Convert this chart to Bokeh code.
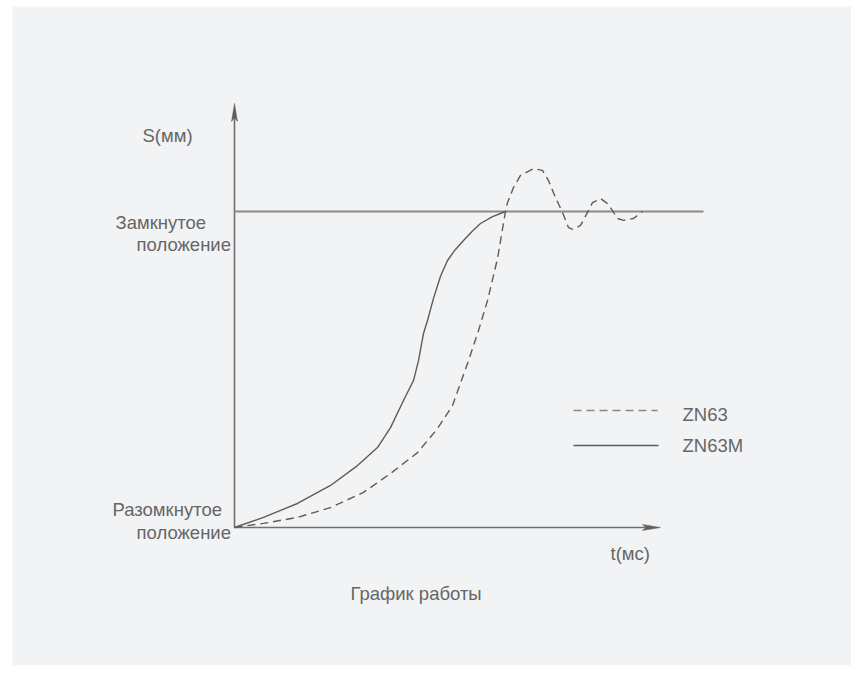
from bokeh.plotting import figure
from bokeh.models import Range1d
from bokeh.core.properties import value
from bokeh.embed import file_html
from bokeh.resources import INLINE

# ---------------- data ----------------
# time (ms, arbitrary units) and stroke S (% of full travel)
zn63m_t = [0, 7.25, 15.75, 24, 30.75, 35.75, 39, 42.25, 44.75, 46, 47.25,
           48.25, 49.75, 51.5, 53.25, 55.25, 57.25, 59.5, 61.5, 64.5, 67.75]
zn63m_s = [0, 3.2, 7.6, 13.3, 19.6, 25.3, 31.6, 40.2, 46.5, 52.8, 61.4,
           65.5, 72.5, 79.5, 84.5, 88.0, 90.8, 93.8, 96.2, 98.4, 100]

zn63_t = [0, 7.25, 15.75, 24, 32.25, 39, 45.75, 50.75, 54.5, 58.5, 61, 63.25,
          65.75, 67.75, 68.25, 69.75, 71.5, 74.75, 77, 78.5, 80.25, 82, 83.5,
          84.75, 86.5, 88.25, 89.5, 91.5, 93.25, 94.5, 95.75, 97.25, 99.75, 102]
zn63_s = [0, 1.3, 3.2, 6.3, 11.1, 17.1, 23.7, 31.3, 38.6, 52.8, 62.3, 71.8,
          85.1, 100, 102.8, 107.6, 111.4, 113.6, 113.0, 109.8, 104.4, 99.7, 94.9,
          94.3, 95.6, 99.7, 102.8, 104.1, 102.5, 100.3, 97.8, 97.2, 97.8, 100]

open_s = 0
closed_s = 100
t_axis_end = 106.5
s_axis_end = 134.2
closed_line_end = 117.25

series_names = ["ZN63", "ZN63M"]
y_labels = ["S(мм)", "Замкнутое", "положение", "Разомкнутое", "положение"]
x_label = "t(мс)"
title = "График работы"

# ---------------- layout helpers (figure px -> data) ----------------
W, H = 851, 665
FL, FT = 12, 6   # frame offset (gray panel)


def X(px):
    return (px - 234) / 4.0


def Y(py):
    return (527 - py) / 3.16


BG = "#f2f3f5"
LINE = "#5c5c5c"
AXIS = "#707070"
TXT = "#666666"
FONT = value("Liberation Sans")

p = figure(width=W, height=H, x_range=Range1d(X(FL), X(W)),
           y_range=Range1d(Y(H), Y(FT)), output_backend="svg",
           toolbar_location=None, x_axis_type=None, y_axis_type=None,
           min_border_left=FL, min_border_top=FT, min_border_right=0,
           min_border_bottom=0, background_fill_color=BG,
           border_fill_color="white", outline_line_color=None)
p.grid.visible = False

# axes
p.line([0, 0], [open_s, s_axis_end - 4], line_color=AXIS, line_width=1.6)
p.line([0, t_axis_end - 3], [open_s, open_s], line_color=AXIS, line_width=1.6)
# closed position line
p.line([0, closed_line_end], [closed_s, closed_s], line_color="#8a8a8a", line_width=2)

# arrow heads
hl_t, hw_s = 18 / 4.0, 3 / 3.16
hl_s, hw_t = 18 / 3.16, 3 / 4.0
p.patch([t_axis_end, t_axis_end - hl_t, t_axis_end - hl_t * 0.8, t_axis_end - hl_t],
        [open_s, open_s + hw_s, open_s, open_s - hw_s],
        fill_color="#606060", line_color="#606060", line_width=0.5)
p.patch([0, -hw_t, 0, hw_t],
        [s_axis_end, s_axis_end - hl_s, s_axis_end - hl_s * 0.8, s_axis_end - hl_s],
        fill_color="#606060", line_color="#606060", line_width=0.5)

# curves
p.line(zn63m_t, zn63m_s, line_color=LINE, line_width=1.4, line_join="round")
p.line(zn63_t, zn63_s, line_color=LINE, line_width=1.4, line_dash="8 5",
       line_join="round")

# legend (hand drawn)
p.line([X(573), X(657)], [Y(410), Y(410)], line_color="#888888", line_width=1.4,
       line_dash="8 5")
p.line([X(573), X(658)], [Y(445), Y(445)], line_color=LINE, line_width=1.4)

# texts
lx = [X(142), X(115), X(136), X(112), X(136), X(610), X(682), X(682), X(350)]
ly = [Y(135), Y(222), Y(244), Y(509), Y(532), Y(553), Y(414), Y(445), Y(593)]
lt = y_labels + [x_label] + series_names + [title]
p.text(x=lx, y=ly, text=lt, text_font=FONT, text_font_size="18.5px",
       text_color=TXT, text_align="left", text_baseline="middle")

open("out.html", "w").write(file_html(p, INLINE))
